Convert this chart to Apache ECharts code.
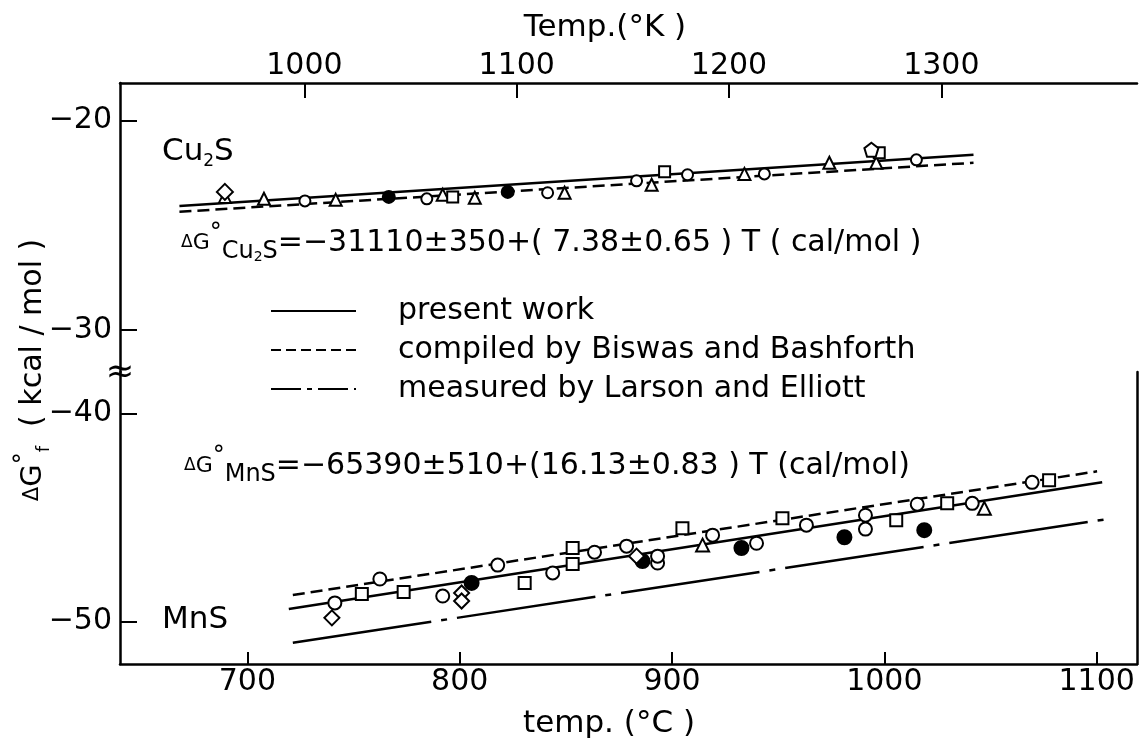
<!DOCTYPE html>
<html>
<head>
<meta charset="utf-8">
<script src="https://cdn.jsdelivr.net/npm/echarts@6/dist/echarts.min.js"></script>
<style>
  html, body { margin: 0; padding: 0; background: #fff; }
  #chart { width: 1140px; height: 740px; }
</style>
</head>
<body>
<div id="chart"></div>
<script>
// temp in deg C, dG in kcal/mol
var cuPresent = [[668, -24.07], [1042, -21.63]];
var cuBiswas = [[668, -24.35], [1042, -22.01]];
var mnPresent = [[719.5, -49.4], [1102.6, -43.31]];
var mnBiswas = [[721.4, -48.73], [1100.2, -42.78]];
var mnLarson = [[721.4, -51.03], [1104.9, -45.08]];

var cuCircle = [[727.1, -23.83], [784.5, -23.73], [841.4, -23.44], [883.3, -22.87], [907.3, -22.58], [943.5, -22.54], [1015.1, -21.87]];
var cuFilled = [[766.6, -23.64], [822.6, -23.40]];
var cuTriangle = [[689.4, -23.64], [707.8, -23.73], [741.6, -23.78], [792.0, -23.54], [807.1, -23.68], [849.4, -23.44], [890.4, -23.06], [934.1, -22.54], [974.1, -22.01], [996.2, -22.01]];
var cuSquare = [[796.7, -23.64], [896.5, -22.44], [997.6, -21.53]];
var cuDiamond = [[689.4, -23.40]];
var cuPentagon = [[993.9, -21.39]];

var mnCircle = [[741.2, -49.11], [762.4, -47.96], [792.0, -48.78], [817.9, -47.29], [843.8, -47.67], [863.5, -46.67], [878.6, -46.38], [893.2, -47.19], [893.2, -46.86], [919.1, -45.85], [939.8, -46.24], [963.3, -45.37], [991.1, -44.89], [991.1, -45.56], [1015.5, -44.36], [1041.4, -44.32], [1069.6, -43.31]];
var mnFilled = [[805.6, -48.15], [886.1, -47.10], [932.7, -46.47], [981.2, -45.95], [1018.8, -45.61]];
var mnSquare = [[753.9, -48.68], [773.6, -48.58], [830.6, -48.15], [853.2, -47.24], [853.2, -46.47], [904.9, -45.52], [952.0, -45.04], [1005.6, -45.13], [1029.6, -44.32], [1077.6, -43.21]];
var mnTriangle = [[914.4, -46.33], [1047.1, -44.56]];
var mnDiamond = [[739.8, -49.83], [800.9, -48.63], [800.9, -49.02], [883.3, -46.86]];

var celsiusTicks = [700, 800, 900, 1000, 1100];
var kelvinTicks = [1000, 1100, 1200, 1300];
var upperTicks = [-20, -30];
var lowerTicks = [-40, -50];

var FONT = '"DejaVu Sans", sans-serif';
var xMin = 640, xMax = 1119;

var pentagon = 'path://M0,-10 L9.5,-3.1 L5.9,8.1 L-5.9,8.1 L-9.5,-3.1 Z';

function minus(v) { return v < 0 ? '\u2212' + Math.abs(v) : '' + v; }

function valueAxis(grid, pos, min, max, ticks, showLabel, len, margin) {
  return {
    type: 'value', gridIndex: grid, position: pos, min: min, max: max,
    splitLine: { show: false },
    axisLine: { show: true, onZero: false, lineStyle: { color: '#000', width: 2.5 } },
    axisTick: { show: ticks != null, inside: true, length: len || 15, customValues: ticks || [], lineStyle: { color: '#000', width: 2 } },
    axisLabel: { show: showLabel, customValues: ticks || [], color: '#000', fontSize: 30, fontFamily: FONT, margin: margin == null ? 8 : margin, formatter: minus }
  };
}

function lineSeries(name, data, x, y, type) {
  return {
    name: name, type: 'line', xAxisIndex: x, yAxisIndex: y, data: data,
    symbol: 'none', z: 2, silent: true,
    itemStyle: { color: '#000' },
    lineStyle: { color: '#000', width: 2.5, type: type }
  };
}

function dots(data, x, y, symbol, size, filled) {
  return {
    type: 'scatter', xAxisIndex: x, yAxisIndex: y, data: data,
    symbol: symbol, symbolSize: size, z: 3, silent: true,
    itemStyle: { color: filled ? '#000' : '#fff', borderColor: '#000', borderWidth: 2, opacity: 1 }
  };
}

function txt(x, y, text, size, align) {
  return {
    type: 'text', x: x, y: y, silent: true,
    style: { text: text, fontSize: size, fontFamily: FONT, fill: '#000', align: align || 'left', verticalAlign: 'middle' }
  };
}

var dashed = [12, 6];
var dashDot = [140, 10, 6, 10];

var eqRich = {
  d: { fontSize: 17, fontFamily: FONT, lineHeight: 42 },
  g: { fontSize: 22, fontFamily: FONT, lineHeight: 42 },
  sup: { fontSize: 24, fontFamily: FONT, verticalAlign: 'top', lineHeight: 24 },
  sub: { fontSize: 24, fontFamily: FONT, verticalAlign: 'bottom', lineHeight: 26 },
  s2: { fontSize: 14, fontFamily: FONT, verticalAlign: 'bottom', lineHeight: 18 },
  m: { fontSize: 30, fontFamily: FONT, lineHeight: 42 }
};

var chart = echarts.init(document.getElementById('chart'));

chart.setOption({
  animation: false,
  backgroundColor: '#fff',
  grid: [
    { left: 120, right: 3, top: 83, height: 289 },
    { left: 120, right: 3, top: 372, height: 292 }
  ],
  xAxis: [
    { type: 'value', gridIndex: 0, min: xMin, max: xMax, show: false },
    valueAxis(0, 'top', xMin + 273.15, xMax + 273.15, kelvinTicks, true, 15, 2),
    valueAxis(1, 'bottom', xMin, xMax, celsiusTicks, true, 12, 3)
  ],
  yAxis: [
    valueAxis(0, 'left', -32, -18.2, upperTicks, true, 17),
    valueAxis(1, 'left', -52.05, -38.0, lowerTicks, true, 17),
    valueAxis(1, 'right', -52.05, -38.0, null, false)
  ],
  legend: {
    left: 265, top: 291, orient: 'vertical',
    itemWidth: 85, itemHeight: 14, itemGap: 9,
    selectedMode: false,
    itemStyle: { opacity: 0 },
    textStyle: { color: '#000', fontSize: 30, fontFamily: FONT, lineHeight: 30, padding: [0, 0, 0, 37] },
    data: [
      { name: 'present work' },
      { name: 'compiled by Biswas and Bashforth', lineStyle: { type: [10, 5] } },
      { name: 'measured by Larson and Elliott', lineStyle: { type: [30, 6, 5, 6] } }
    ]
  },
  series: [
    lineSeries('present work', cuPresent, 0, 0, 'solid'),
    lineSeries('compiled by Biswas and Bashforth', cuBiswas, 0, 0, dashed),
    lineSeries('present work', mnPresent, 2, 1, 'solid'),
    lineSeries('compiled by Biswas and Bashforth', mnBiswas, 2, 1, dashed),
    lineSeries('measured by Larson and Elliott', mnLarson, 2, 1, dashDot),

    dots(cuCircle, 0, 0, 'circle', 11, false),
    dots(cuFilled, 0, 0, 'circle', 12, true),
    dots(cuTriangle, 0, 0, 'triangle', 12, false),
    dots(cuSquare, 0, 0, 'rect', 11, false),
    dots(cuDiamond, 0, 0, 'diamond', 16, false),
    dots(cuPentagon, 0, 0, pentagon, 14, false),

    dots(mnCircle, 2, 1, 'circle', 13, false),
    dots(mnFilled, 2, 1, 'circle', 14, true),
    dots(mnSquare, 2, 1, 'rect', 12, false),
    dots(mnTriangle, 2, 1, 'triangle', 13, false),
    dots(mnDiamond, 2, 1, 'diamond', 15, false)
  ],
  graphic: [
    txt(605, 28, 'Temp.(\u00b0K )', 31, 'center'),
    txt(609, 724, 'temp. (\u00b0C )', 31, 'center'),
    txt(120, 373, '\u2248', 34, 'center'),
    {
      type: 'text', x: 33, y: 370, rotation: Math.PI / 2, silent: true,
      style: {
        text: '{d|\u0394}{g|G}{sup|\u00b0}{sub|f}{m|  ( kcal / mol )}',
        fill: '#000', align: 'center', verticalAlign: 'middle', fontFamily: FONT,
        rich: {
          d: { fontSize: 21, fontFamily: FONT, lineHeight: 40 },
          g: { fontSize: 29, fontFamily: FONT, lineHeight: 40 },
          sup: { fontSize: 24, fontFamily: FONT, verticalAlign: 'top', lineHeight: 24 },
          sub: { fontSize: 18, fontFamily: FONT, verticalAlign: 'bottom', lineHeight: 22 },
          m: { fontSize: 30, fontFamily: FONT, lineHeight: 40 }
        }
      }
    },
    {
      type: 'text', x: 162, y: 152, silent: true,
      style: {
        text: '{a|Cu}{b|2}{a|S}', fill: '#000', verticalAlign: 'middle', fontFamily: FONT,
        rich: {
          a: { fontSize: 31, fontFamily: FONT, lineHeight: 36 },
          b: { fontSize: 17, fontFamily: FONT, verticalAlign: 'bottom', lineHeight: 20 }
        }
      }
    },
    txt(162, 620, 'MnS', 31, 'left'),
    {
      type: 'text', x: 181, y: 243, silent: true,
      style: {
        text: '{d|\u0394}{g|G}{sup|\u00b0}{sub|Cu}{s2|2}{sub|S}{m|=\u221231110\u00b1350+( 7.38\u00b10.65 ) T ( cal/mol )}',
        fill: '#000', verticalAlign: 'middle', fontFamily: FONT, rich: eqRich
      }
    },
    {
      type: 'text', x: 184, y: 466, silent: true,
      style: {
        text: '{d|\u0394}{g|G}{sup|\u00b0}{sub|MnS}{m|=\u221265390\u00b1510+(16.13\u00b10.83 ) T (cal/mol)}',
        fill: '#000', verticalAlign: 'middle', fontFamily: FONT, rich: eqRich
      }
    }
  ]
});
</script>
</body>
</html>
